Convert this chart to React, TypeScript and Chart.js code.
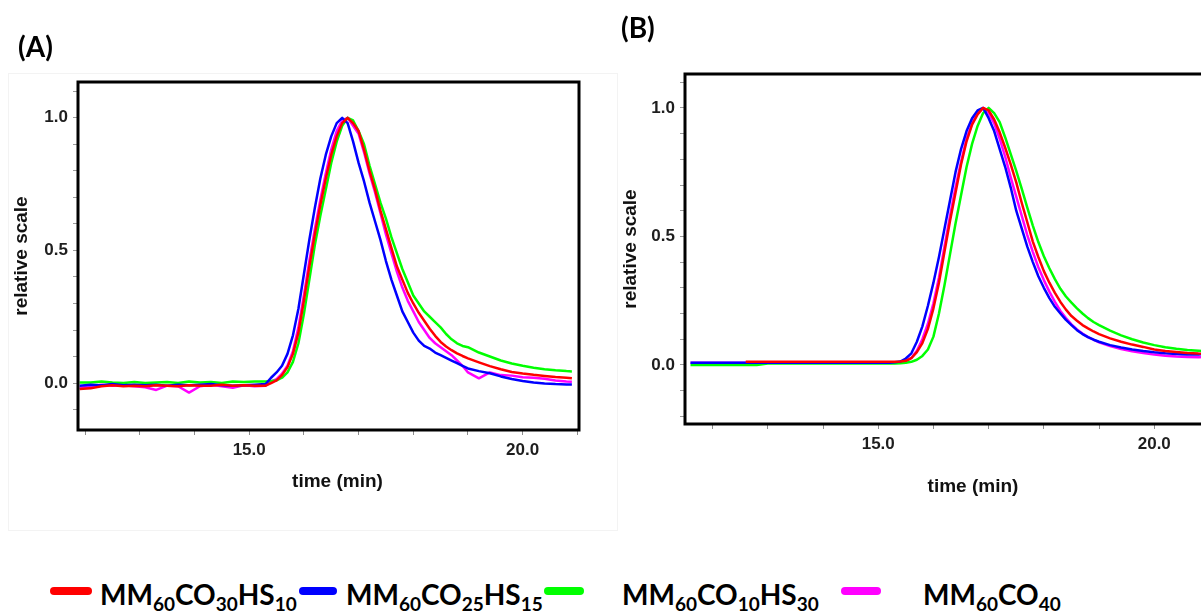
import React, { useEffect, useRef } from "react";
import { Chart, registerables } from "chart.js";

Chart.register(...registerables);

// ---------- Panel A: elution profiles (time in min, normalised detector response) ----------
const timeA = [
  11.9, 12.1, 12.3, 12.5, 12.7, 12.9, 13.1, 13.3, 13.5, 13.7, 13.9, 14.1, 14.3, 14.5, 14.7, 14.9, 15.1, 15.3,
  15.4, 15.5, 15.6, 15.7, 15.8, 15.9, 16.0, 16.1, 16.2, 16.3, 16.4, 16.5, 16.6, 16.7, 16.8, 16.9, 17.0,
  17.1, 17.2, 17.3, 17.4, 17.5, 17.6, 17.7, 17.8, 17.9, 18.0, 18.1, 18.2, 18.3, 18.4, 18.5, 18.6, 18.7,
  18.8, 18.9, 19.0,
  19.2, 19.4, 19.6, 19.8, 20.0, 20.2, 20.4, 20.6, 20.8, 20.9,
];

const co30hs10A = [
  -0.022, -0.02, -0.012, -0.008, -0.012, -0.01, -0.012, -0.008, -0.01, -0.012, -0.008, -0.01, -0.01, -0.006, -0.01, -0.008, -0.01, -0.01,
  0.0, 0.01, 0.03, 0.06, 0.11, 0.19, 0.31, 0.44, 0.56, 0.67, 0.77, 0.86, 0.93, 0.98, 1.0, 0.98, 0.95,
  0.88, 0.8, 0.73, 0.65, 0.58, 0.51, 0.44, 0.39, 0.34, 0.3, 0.265, 0.235, 0.205, 0.178, 0.155, 0.138, 0.124,
  0.112, 0.102, 0.093,
  0.078, 0.064, 0.052, 0.042, 0.036, 0.031, 0.027, 0.023, 0.02, 0.018,
];

const co25hs15A = [
  -0.01, -0.006, -0.008, -0.004, -0.008, -0.006, -0.008, -0.006, -0.01, -0.006, -0.008, -0.006, -0.004, -0.008, -0.01, -0.008, -0.006, -0.004,
  0.02, 0.04, 0.065, 0.11, 0.18, 0.28, 0.41, 0.54, 0.66, 0.77, 0.86, 0.93, 0.98, 1.0, 0.98, 0.91, 0.83,
  0.76, 0.68, 0.61, 0.54, 0.46, 0.39, 0.33, 0.27, 0.23, 0.19, 0.16, 0.14, 0.13, 0.115, 0.105, 0.095, 0.085,
  0.075, 0.065, 0.055,
  0.045, 0.037, 0.025, 0.015, 0.008, 0.002, -0.002, -0.004, -0.005, -0.005,
];

const co10hs30A = [
  0.002, 0.002, 0.006, 0.002, 0.0, 0.004, 0.0, 0.002, 0.004, 0.0, 0.006, 0.002, 0.004, 0.0, 0.006, 0.004, 0.006, 0.006,
  0.008, 0.01, 0.02, 0.04, 0.08, 0.15, 0.26, 0.39, 0.52, 0.63, 0.73, 0.83, 0.91, 0.97, 1.0, 0.99, 0.95,
  0.9, 0.82, 0.75, 0.68, 0.62, 0.55, 0.49, 0.43, 0.38, 0.33, 0.3, 0.27, 0.25, 0.23, 0.21, 0.185, 0.165,
  0.15, 0.14, 0.135,
  0.115, 0.1, 0.085, 0.074, 0.065, 0.058, 0.052, 0.048, 0.045, 0.044,
];

const co40A = [
  -0.018, -0.014, -0.006, -0.01, -0.008, -0.012, -0.016, -0.026, -0.01, -0.012, -0.036, -0.012, -0.006, -0.012, -0.018, -0.008, -0.012, -0.01,
  0.005, 0.015, 0.035, 0.065, 0.12, 0.21, 0.33, 0.46, 0.58, 0.69, 0.79, 0.88, 0.95, 0.99, 1.0, 0.97, 0.94,
  0.87, 0.79, 0.72, 0.64, 0.56, 0.49, 0.42, 0.36, 0.31, 0.27, 0.23, 0.2, 0.17, 0.15, 0.135, 0.12, 0.105,
  0.085, 0.065, 0.04,
  0.018, 0.04, 0.03, 0.028, 0.022, 0.02, 0.016, 0.01, 0.006, 0.005,
];

// ---------- Panel B ----------
const timeB = [
  11.6, 11.8, 12.0, 12.2, 12.4, 12.6, 12.8, 13.0, 13.2, 13.4, 13.6, 13.8, 14.0, 14.2, 14.4, 14.6, 14.8, 15.0, 15.2,
  15.3, 15.4, 15.5, 15.6, 15.7, 15.8, 15.9, 16.0, 16.1, 16.2, 16.3, 16.4, 16.5, 16.6, 16.7, 16.8, 16.9, 17.0,
  17.1, 17.2, 17.3, 17.4, 17.5, 17.6, 17.7, 17.8, 17.9, 18.0, 18.1, 18.2, 18.3, 18.4, 18.5, 18.6, 18.7,
  18.8, 18.9, 19.0,
  19.2, 19.4, 19.6, 19.8, 20.0, 20.2, 20.4, 20.6, 20.8, 21.0,
];

const co30hs10B = [
  null, null, null, null, null, 0.012, 0.012, 0.012, 0.012, 0.012, 0.012, 0.012, 0.012, 0.012, 0.012, 0.012, 0.012, 0.012, 0.012,
  0.012, 0.013, 0.016, 0.026, 0.05, 0.085, 0.14, 0.22, 0.32, 0.44, 0.56, 0.67, 0.78, 0.87, 0.935, 0.975, 1.0, 0.99,
  0.955, 0.905, 0.845, 0.78, 0.71, 0.63, 0.555, 0.48, 0.42, 0.365, 0.32, 0.28, 0.245, 0.215, 0.19, 0.172, 0.155,
  0.142, 0.13, 0.12,
  0.103, 0.09, 0.079, 0.07, 0.06, 0.054, 0.05, 0.046, 0.044, 0.043,
];

const co25hs15B = [
  0.008, 0.008, 0.008, 0.008, 0.008, 0.008, 0.008, 0.008, 0.008, 0.008, 0.008, 0.008, 0.008, 0.008, 0.008, 0.008, 0.008, 0.008, 0.008,
  0.01, 0.013, 0.025, 0.045, 0.09, 0.15, 0.23, 0.32, 0.42, 0.53, 0.64, 0.75, 0.84, 0.91, 0.96, 0.99, 1.0, 0.96,
  0.91, 0.84, 0.77, 0.69, 0.6, 0.53, 0.46, 0.4, 0.345, 0.3, 0.26, 0.226, 0.2, 0.175, 0.155, 0.135, 0.12,
  0.108, 0.098, 0.09,
  0.077, 0.068, 0.06, 0.054, 0.049, 0.045, 0.042, 0.04, 0.04, 0.045,
];

const co10hs30B = [
  0.0, 0.0, 0.0, 0.0, 0.0, 0.0, 0.0, 0.005, 0.005, 0.005, 0.005, 0.005, 0.005, 0.005, 0.005, 0.005, 0.005, 0.005, 0.005,
  0.005, 0.006, 0.008, 0.012, 0.02, 0.035, 0.06, 0.11, 0.2, 0.31, 0.43, 0.55, 0.66, 0.77, 0.86, 0.93, 0.98, 1.0,
  0.98, 0.945, 0.885, 0.82, 0.755, 0.685, 0.612, 0.542, 0.478, 0.423, 0.376, 0.334, 0.296, 0.266, 0.242, 0.22, 0.2,
  0.182, 0.167, 0.155,
  0.133, 0.115, 0.1, 0.087, 0.077, 0.069, 0.063, 0.058, 0.055, 0.052,
];

const co40B = [
  0.008, 0.008, 0.008, 0.008, 0.008, 0.008, 0.008, 0.008, 0.008, 0.008, 0.008, 0.008, 0.008, 0.008, 0.008, 0.008, 0.008, 0.008, 0.008,
  0.009, 0.011, 0.015, 0.027, 0.055, 0.1, 0.16, 0.24, 0.34, 0.46, 0.58, 0.69, 0.79, 0.88, 0.94, 0.98, 1.0, 0.98,
  0.94, 0.88, 0.81, 0.73, 0.655, 0.58, 0.505, 0.44, 0.38, 0.33, 0.285, 0.245, 0.21, 0.182, 0.158, 0.138, 0.122,
  0.108, 0.098, 0.088,
  0.073, 0.062, 0.053, 0.046, 0.04, 0.036, 0.033, 0.031, 0.03, 0.032,
];

// Legend entries: text pieces alternate between normal and subscript
const seriesNames = ["MM60CO30HS10", "MM60CO25HS15", "MM60CO10HS30", "MM60CO40"];
const seriesParts = [
  ["MM", "60", "CO", "30", "HS", "10"],
  ["MM", "60", "CO", "25", "HS", "15"],
  ["MM", "60", "CO", "10", "HS", "30"],
  ["MM", "60", "CO", "40"],
];
const seriesColors = ["#ff0000", "#0000ff", "#00ff00", "#ff00ff"];

const yTickLabels = [0, 0.5, 1];
const xTickLabels = [15, 20];

const SANS = '"Liberation Sans", Arial, Helvetica, sans-serif';
const TICK_FONT = { family: SANS, size: 17, weight: "bold" as const };
const TITLE_FONT = { family: SANS, size: 19, weight: "bold" as const };

// Black box around the plotting area
const framePlugin = {
  id: "panelFrame",
  afterDatasetsDraw(chart: any) {
    const { ctx, chartArea: a } = chart;
    ctx.save();
    ctx.strokeStyle = "#000";
    ctx.lineWidth = 3;
    ctx.strokeRect(a.left, a.top, a.right - a.left, a.bottom - a.top);
    ctx.restore();
  },
};

// Horizontal axis caption placed under the tick labels
const captionPlugin = {
  id: "xCaption",
  afterDraw(chart: any, _args: any, opts: any) {
    const { ctx, chartArea: a } = chart;
    ctx.save();
    ctx.font = `bold ${TITLE_FONT.size}px ${TITLE_FONT.family}`;
    ctx.fillStyle = "#111";
    ctx.textAlign = "center";
    ctx.textBaseline = "middle";
    ctx.fillText(opts.text, (a.left + a.right) / 2 + opts.dx, a.bottom + opts.dy);
    ctx.restore();
  },
};

function isIn(list: number[], v: number) {
  return list.some((t) => Math.abs(t - v) < 1e-6);
}

function buildConfig(p: any) {
  const datasets = p.values.map((vals: (number | null)[], i: number) => ({
    label: seriesNames[i],
    data: p.time.map((t: number, j: number) => ({ x: t, y: vals[j] })),
    borderColor: seriesColors[i],
    backgroundColor: seriesColors[i],
    borderWidth: 2.5,
    pointRadius: 0,
    tension: 0,
    borderJoinStyle: "round",
    spanGaps: false,
  }));
  return {
    type: "line",
    data: { datasets },
    plugins: [framePlugin, captionPlugin],
    options: {
      responsive: false,
      animation: false,
      devicePixelRatio: 1,
      layout: { padding: p.padding },
      plugins: {
        legend: { display: false },
        tooltip: { enabled: false },
        xCaption: { text: "time (min)", dx: p.captionDx, dy: p.captionDy },
      },
      scales: {
        x: {
          type: "linear",
          min: p.xMin,
          max: p.xMax,
          afterFit: (s: any) => {
            s.height = p.xAxisHeight;
          },
          border: { display: false },
          grid: { drawOnChartArea: false, drawTicks: true, tickLength: 5, color: "#8c8c8c", lineWidth: 1 },
          ticks: {
            stepSize: 1,
            includeBounds: false,
            autoSkip: false,
            maxRotation: 0,
            padding: 5,
            color: "#1e1e1e",
            font: TICK_FONT,
            callback: (v: number) => (isIn(xTickLabels, v) ? v.toFixed(1) : ""),
          },
        },
        y: {
          type: "linear",
          min: p.yMin,
          max: p.yMax,
          afterFit: (s: any) => {
            s.width = p.yAxisWidth;
          },
          border: { display: false },
          grid: { drawOnChartArea: false, drawTicks: true, tickLength: 5, color: "#9a9a9a", lineWidth: 1 },
          ticks: {
            stepSize: 0.1,
            includeBounds: false,
            autoSkip: false,
            maxTicksLimit: 40,
            padding: 5,
            color: "#1e1e1e",
            font: TICK_FONT,
            callback: (v: number) => (isIn(yTickLabels, v) ? v.toFixed(1) : ""),
          },
          title: {
            display: true,
            text: "relative scale",
            color: "#111",
            font: TITLE_FONT,
            padding: { top: p.yTitlePad, bottom: 0 },
          },
        },
      },
    },
  };
}

const panelA = {
  time: timeA,
  values: [co30hs10A, co25hs15A, co10hs30A, co40A],
  xMin: 11.87,
  xMax: 21.03,
  yMin: -0.177,
  yMax: 1.135,
  padding: { top: 82, right: 41, left: 0, bottom: 0 },
  yAxisWidth: 78,
  xAxisHeight: 110,
  yTitlePad: 10.6,
  captionDx: 9,
  captionDy: 52,
};

const panelB = {
  time: timeB,
  values: [co30hs10B, co25hs15B, co10hs30B, co40B],
  xMin: 11.5,
  xMax: 21.1,
  yMin: -0.23,
  yMax: 1.132,
  padding: { top: 74, right: 10, left: 0, bottom: 0 },
  yAxisWidth: 75,
  xAxisHeight: 116,
  yTitlePad: 9.6,
  captionDx: 23,
  captionDy: 63,
};

const legendLayout = [
  { marker: 50, markerW: 42, text: 100 },
  { marker: 299, markerW: 38, text: 346 },
  { marker: 544, markerW: 40, text: 622 },
  { marker: 841, markerW: 40, text: 923 },
];

export default function App() {
  const refA = useRef<HTMLCanvasElement | null>(null);
  const refB = useRef<HTMLCanvasElement | null>(null);

  useEffect(() => {
    const a = new Chart(refA.current as HTMLCanvasElement, buildConfig(panelA) as any);
    const b = new Chart(refB.current as HTMLCanvasElement, buildConfig(panelB) as any);
    return () => {
      a.destroy();
      b.destroy();
    };
  }, []);

  const letterStyle: React.CSSProperties = {
    position: "absolute",
    font: 'bold 28px Lato, "Liberation Sans", sans-serif',
    lineHeight: "28px",
    color: "#000",
  };

  return (
    <div
      style={{
        position: "fixed",
        left: 0,
        top: 0,
        width: 1201,
        height: 616,
        overflow: "hidden",
        background: "#fff",
      }}
    >
      <div
        style={{
          position: "absolute",
          left: 8,
          top: 73,
          width: 610,
          height: 458,
          border: "1px solid #f3f3f3",
          boxSizing: "border-box",
        }}
      />
      <canvas
        ref={refA}
        width={620}
        height={540}
        style={{ position: "absolute", left: 0, top: 0, width: 620, height: 540 }}
      />
      <canvas
        ref={refB}
        width={615}
        height={540}
        style={{ position: "absolute", left: 610, top: 0, width: 615, height: 540 }}
      />
      <div style={{ ...letterStyle, left: 18, top: 32 }}>(A)</div>
      <div style={{ ...letterStyle, left: 621, top: 13 }}>(B)</div>

      {seriesParts.map((parts, i) => (
        <React.Fragment key={seriesNames[i]}>
          <div
            style={{
              position: "absolute",
              left: legendLayout[i].marker,
              top: 587,
              width: legendLayout[i].markerW,
              height: 8,
              borderRadius: 4,
              background: seriesColors[i],
            }}
          />
          <div
            style={{
              position: "absolute",
              left: legendLayout[i].text,
              top: 580,
              font: 'bold 28px Lato, "Liberation Sans", sans-serif',
              lineHeight: "28px",
              color: "#000",
              whiteSpace: "nowrap",
            }}
          >
            {parts.map((s, k) =>
              k % 2 === 0 ? (
                <span key={k}>{s}</span>
              ) : (
                <span key={k} style={{ fontSize: 19, position: "relative", top: 6 }}>
                  {s}
                </span>
              )
            )}
          </div>
        </React.Fragment>
      ))}
    </div>
  );
}
